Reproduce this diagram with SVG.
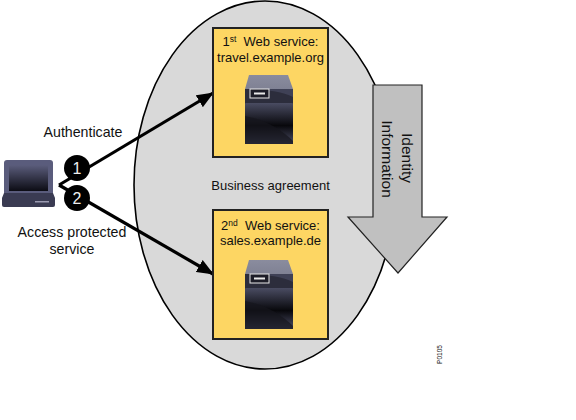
<svg xmlns="http://www.w3.org/2000/svg" xmlns:xlink="http://www.w3.org/1999/xlink" width="576" height="420" viewBox="0 0 576 420">
<style>
text{font-family:"Liberation Sans",Arial,sans-serif;font-size:13px;fill:#111;text-anchor:middle}
.box{fill:#fdd663;stroke:#222;stroke-width:2}
.conn{fill:none;stroke:#000;stroke-width:3.2}
.num{fill:#eee;font-size:16px}
.lbl{font-size:14.2px}
.rot{font-size:15.5px}
.sup{font-size:8.5px}
</style>
<defs>
<linearGradient id="body" x1="0" y1="0" x2="0" y2="1"><stop offset="0" stop-color="#4a4c62"/><stop offset=".55" stop-color="#08080c"/><stop offset="1" stop-color="#4c4e66"/></linearGradient>
<linearGradient id="top" x1="0" y1="0" x2="0" y2="1"><stop offset="0" stop-color="#8a8c9e"/><stop offset="1" stop-color="#55576c"/></linearGradient>
<linearGradient id="scr" x1="0" y1="0" x2="0" y2="1"><stop offset="0" stop-color="#5b5d7c"/><stop offset="1" stop-color="#0c0c14"/></linearGradient>
<marker id="ah" markerUnits="userSpaceOnUse" markerWidth="18" markerHeight="14" refX="16" refY="7" orient="auto"><path d="M0 0L17 7L0 14Z" fill="#000"/></marker>
<g id="server">
<path d="M4 0H43L48 14V69H0V14Z" fill="url(#top)"/>
<rect x="0" y="14" width="48" height="27" fill="#2c2d3c"/>
<path d="M0 14H48V22C36 16 18 14 0 14Z" fill="#3f4156"/>
<rect x="0" y="28" width="48" height="41" rx="1" fill="url(#body)"/>
<path d="M0 41C18 44 36 54 48 66V69H0Z" fill="#15151d" opacity=".7"/>
<rect x="5" y="14" width="19" height="9" fill="#1d1d28" stroke="#e8e8e8" stroke-width="1"/>
<rect x="9" y="17.5" width="11" height="2" fill="#e8e8e8"/>
</g>
</defs>
<ellipse id="ellipse" cx="265" cy="185" rx="131" ry="184" fill="#d9d9d9" stroke="#000" stroke-width="1.6"/>
<g id="connectors">
<path class="conn" marker-end="url(#ah)" d="M59 185L213 93"/>
<path class="conn" marker-end="url(#ah)" d="M59 185L213 274"/>
</g>
<g id="node-service-1">
<rect class="box" x="213" y="28" width="115" height="129"/>
<text x="270.500" y="46" xml:space="preserve">1<tspan class="sup" dy="-4">st</tspan><tspan dy="4">  Web service:</tspan></text>
<text x="270.500" y="62">travel.example.org</text>
<use xlink:href="#server" href="#server" x="245" y="75"/>
</g>
<g id="node-service-2">
<rect class="box" x="213" y="210" width="115" height="129"/>
<text x="270.500" y="230" xml:space="preserve">2<tspan class="sup" dy="-4">nd</tspan><tspan dy="4">  Web service:</tspan></text>
<text x="270.500" y="245">sales.example.de</text>
<use xlink:href="#server" href="#server" x="245" y="260"/>
</g>
<g id="node-laptop">
<path d="M7 160H50Q53 160 53 163V193H4V163Q4 160 7 160Z" fill="#5a5c7c"/>
<rect x="9" y="165" width="39" height="26" fill="url(#scr)"/>
<path d="M4 193H53L55 198V205Q55 207 53 207H4Q2 207 2 205V198Z" fill="#3a3b52"/>
<rect x="35" y="201" width="14" height="1.5" fill="#9a9ab0"/>
</g>
<g id="node-step-1">
<circle cx="77" cy="168" r="13" fill="#000"/>
<text class="num" x="77" y="174">1</text>
</g>
<g id="node-step-2">
<circle cx="77" cy="198" r="13" fill="#000"/>
<text class="num" x="77" y="204">2</text>
</g>
<g id="node-identity">
<path d="M373 85H422V217H447L398 273L348 217H373Z" fill="#c0c0c0" stroke="#222" stroke-width="1.2"/>
<text class="rot" transform="translate(402 158) rotate(90)">Identity</text>
<text class="rot" transform="translate(382 159) rotate(90)">Information</text>
</g>
<text class="lbl" x="83" y="137">Authenticate</text>
<text class="lbl" x="72" y="237">Access protected</text>
<text class="lbl" x="72" y="254">service</text>
<text x="270.500" y="190">Business agreement</text>
<text style="font-size:6.500px" transform="translate(442 354.500) rotate(-90)">P0105</text>
</svg>
